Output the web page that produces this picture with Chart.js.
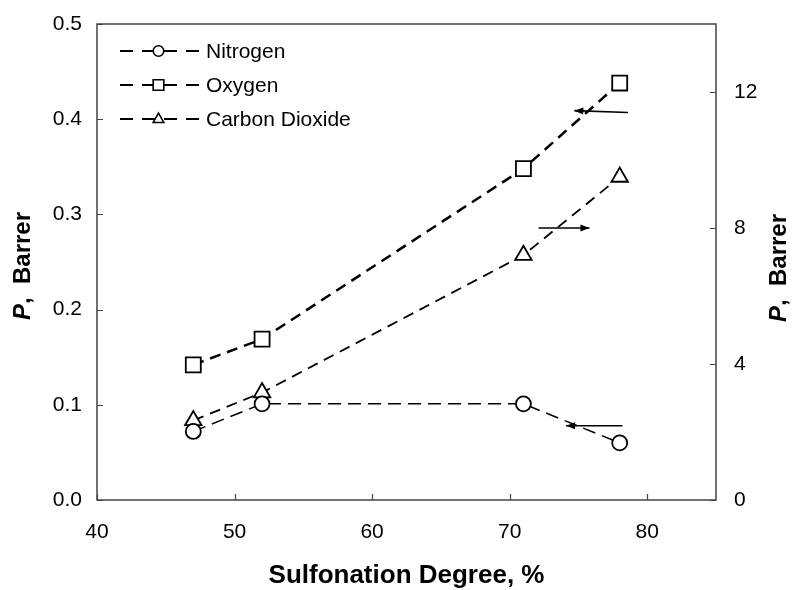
<!DOCTYPE html>
<html>
<head>
<meta charset="utf-8">
<script src="https://cdn.jsdelivr.net/npm/chart.js@4.4.1/dist/chart.umd.min.js"></script>
<style>
  html, body { margin: 0; padding: 0; background: #fff; }
  #wrap { width: 795px; height: 590px; }
</style>
</head>
<body>
<div id="wrap"><canvas id="chart" width="795" height="590"></canvas></div>
<script>
// Permeability vs sulfonation degree
const degree = [47, 52, 71, 78];
const nitrogen = [0.072, 0.101, 0.101, 0.060];      // left axis
const oxygen = [0.142, 0.169, 0.348, 0.438];        // left axis
const carbonDioxide = [2.34, 3.16, 7.2, 9.5];       // right axis
const seriesNames = ['Nitrogen', 'Oxygen', 'Carbon Dioxide'];
const xTicks = [40, 50, 60, 70, 80];
const leftTicks = [0, 0.1, 0.2, 0.3, 0.4, 0.5];
const rightTicks = [0, 4, 8, 12];

// arrows telling which axis a curve belongs to, [x, y] in data units
const arrows = [
  { axis: 'y', from: [78.6, 0.407], to: [74.7, 0.409] },
  { axis: 'y2', from: [72.1, 8], to: [75.8, 8] },
  { axis: 'y', from: [78.2, 0.078], to: [74.1, 0.078] }
];

const FONT = "'Liberation Sans', Arial, sans-serif";
const AXIS_COLOR = '#444';

const pts = vals => degree.map((d, i) => ({ x: d, y: vals[i] }));

const styles = [
  { style: 'circle', radius: 7.5, dash: [13, 7], width: 1.5 },
  { style: 'rect', radius: 10.6, dash: [11, 7], width: 2.5 },
  { style: 'triangle', radius: 9.5, dash: [11, 7], width: 1.8 }
];

const datasets = [nitrogen, oxygen, carbonDioxide].map((vals, i) => ({
  label: seriesNames[i],
  data: pts(vals),
  yAxisID: i === 2 ? 'y2' : 'y',
  borderColor: '#000',
  borderWidth: styles[i].width,
  borderDash: styles[i].dash,
  pointStyle: styles[i].style,
  pointRadius: styles[i].radius,
  pointBackgroundColor: '#fff',
  pointBorderColor: '#000',
  pointBorderWidth: 1.8,
  tension: 0,
  clip: false
}));

// small marker drawer for the legend
function marker(ctx, style, x, y, r) {
  ctx.beginPath();
  if (style === 'circle') {
    ctx.arc(x, y, r, 0, Math.PI * 2);
  } else if (style === 'rect') {
    ctx.rect(x - r, y - r, 2 * r, 2 * r);
  } else {
    ctx.moveTo(x, y - r * 1.1);
    ctx.lineTo(x + r, y + r * 0.65);
    ctx.lineTo(x - r, y + r * 0.65);
    ctx.closePath();
  }
  ctx.fillStyle = '#fff';
  ctx.fill();
  ctx.stroke();
}

function rotatedTitle(ctx, cx, cy) {
  ctx.save();
  ctx.translate(cx, cy);
  ctx.rotate(-Math.PI / 2);
  ctx.textBaseline = 'middle';
  ctx.textAlign = 'left';
  ctx.fillStyle = '#000';
  const italic = 'italic bold 24px ' + FONT;
  const bold = 'bold 24px ' + FONT;
  ctx.font = italic;
  const w1 = ctx.measureText('P').width;
  ctx.font = bold;
  const w2 = ctx.measureText(',  Barrer').width;
  const x0 = -(w1 + w2) / 2;
  ctx.font = italic;
  ctx.fillText('P', x0, 0);
  ctx.font = bold;
  ctx.fillText(',  Barrer', x0 + w1, 0);
  ctx.restore();
}

const decorations = {
  id: 'decorations',
  afterDraw(chart) {
    const { ctx, chartArea: a, scales } = chart;
    ctx.save();

    // frame
    ctx.strokeStyle = AXIS_COLOR;
    ctx.lineWidth = 1.5;
    ctx.setLineDash([]);
    ctx.strokeRect(a.left, a.top, a.right - a.left, a.bottom - a.top);

    // inward tick marks
    ctx.beginPath();
    scales.x.ticks.forEach(t => {
      const px = Math.round(scales.x.getPixelForValue(t.value)) + 0.5;
      ctx.moveTo(px, a.bottom); ctx.lineTo(px, a.bottom - 6);
    });
    scales.y.ticks.forEach(t => {
      const py = Math.round(scales.y.getPixelForValue(t.value)) + 0.5;
      ctx.moveTo(a.left, py); ctx.lineTo(a.left + 6, py);
    });
    scales.y2.ticks.forEach(t => {
      const py = Math.round(scales.y2.getPixelForValue(t.value)) + 0.5;
      ctx.moveTo(a.right, py); ctx.lineTo(a.right - 6, py);
    });
    ctx.lineWidth = 1.2;
    ctx.stroke();

    // axis arrows
    ctx.strokeStyle = '#000';
    ctx.fillStyle = '#000';
    ctx.lineWidth = 1.6;
    arrows.forEach(ar => {
      const ys = scales[ar.axis];
      const x1 = scales.x.getPixelForValue(ar.from[0]);
      const y1 = ys.getPixelForValue(ar.from[1]);
      const x2 = scales.x.getPixelForValue(ar.to[0]);
      const y2 = ys.getPixelForValue(ar.to[1]);
      const ang = Math.atan2(y2 - y1, x2 - x1);
      ctx.beginPath();
      ctx.moveTo(x1, y1); ctx.lineTo(x2, y2);
      ctx.stroke();
      ctx.beginPath();
      ctx.moveTo(x2, y2);
      ctx.lineTo(x2 - 9 * Math.cos(ang) + 3.5 * Math.sin(ang), y2 - 9 * Math.sin(ang) - 3.5 * Math.cos(ang));
      ctx.lineTo(x2 - 9 * Math.cos(ang) - 3.5 * Math.sin(ang), y2 - 9 * Math.sin(ang) + 3.5 * Math.cos(ang));
      ctx.closePath();
      ctx.fill();
    });

    // legend
    const lx0 = a.left + 23, lx1 = a.left + 102, ly0 = a.top + 27, lgap = 34;
    datasets.forEach((ds, i) => {
      const y = ly0 + i * lgap;
      ctx.strokeStyle = '#000';
      ctx.lineWidth = 1.8;
      ctx.setLineDash([13, 9]);
      ctx.beginPath();
      ctx.moveTo(lx0, y); ctx.lineTo(lx1, y);
      ctx.stroke();
      ctx.setLineDash([]);
      ctx.lineWidth = 1.6;
      marker(ctx, styles[i].style, (lx0 + lx1) / 2 - 1, y, 5.3);
      ctx.fillStyle = '#000';
      ctx.font = '21px ' + FONT;
      ctx.textAlign = 'left';
      ctx.textBaseline = 'middle';
      ctx.fillText(ds.label, lx1 + 7, y + 1);
    });

    // axis titles
    ctx.fillStyle = '#000';
    ctx.font = 'bold 26px ' + FONT;
    ctx.textAlign = 'center';
    ctx.textBaseline = 'middle';
    ctx.fillText('Sulfonation Degree, %', (a.left + a.right) / 2, 576);
    rotatedTitle(ctx, 23, (a.top + a.bottom) / 2 + 4);
    rotatedTitle(ctx, 779, (a.top + a.bottom) / 2 + 6);

    ctx.restore();
  }
};

const tickFont = { family: FONT, size: 21 };
const noGrid = { display: false, drawTicks: false };

// fixed box sizes so the plot area lands where it should
const fitWidth = w => s => {
  s.width = w;
  s.paddingTop = 0;
  s.paddingBottom = 0;
};

new Chart(document.getElementById('chart'), {
  type: 'line',
  data: { datasets },
  options: {
    responsive: false,
    animation: false,
    events: [],
    layout: { padding: { top: 24, left: 0, right: 0, bottom: 0 } },
    plugins: { legend: { display: false }, tooltip: { enabled: false } },
    scales: {
      x: {
        type: 'linear',
        min: 40, max: 85,
        grid: noGrid,
        border: { display: false },
        afterBuildTicks: s => { s.ticks = xTicks.map(v => ({ value: v })); },
        afterFit: s => { s.height = 90; s.paddingLeft = 0; s.paddingRight = 0; },
        ticks: { color: '#000', font: tickFont, padding: 20, maxRotation: 0 }
      },
      y: {
        position: 'left',
        min: 0, max: 0.5,
        grid: noGrid,
        border: { display: false },
        afterBuildTicks: s => { s.ticks = leftTicks.map(v => ({ value: v })); },
        afterFit: fitWidth(97),
        ticks: { color: '#000', font: tickFont, padding: 15, callback: v => v.toFixed(1) }
      },
      y2: {
        position: 'right',
        min: 0, max: 14,
        grid: noGrid,
        border: { display: false },
        afterBuildTicks: s => { s.ticks = rightTicks.map(v => ({ value: v })); },
        afterFit: fitWidth(79),
        ticks: { color: '#000', font: tickFont, padding: 18, callback: v => String(v) }
      }
    }
  },
  plugins: [decorations]
});
</script>
</body>
</html>
